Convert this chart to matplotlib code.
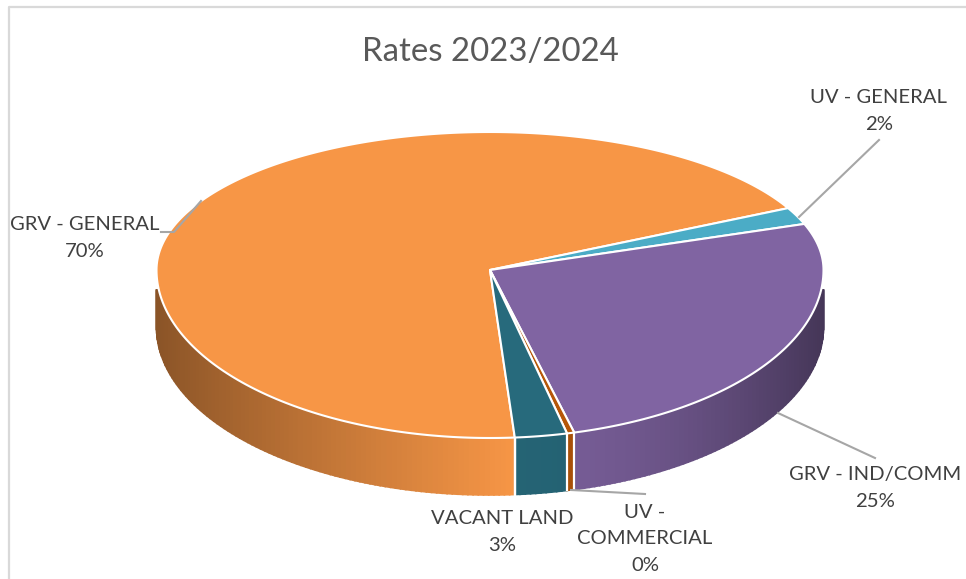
import numpy as np
from matplotlib import pyplot as plt

# data
labels = ['GRV - GENERAL', 'UV - GENERAL', 'GRV - IND/COMM', 'UV -\nCOMMERCIAL', 'VACANT LAND']
values = [69.6, 1.83, 25.36, 0.39, 2.82]
pct_labels = ['70%', '2%', '25%', '0%', '3%']
colors = ['#F79646', '#4BACC6', '#8064A2', '#B65708', '#276A7C']
title = 'Rates 2023/2024'

plt.rcParams['font.family'] = ['Lato', 'DejaVu Sans']

# geometry of the tilted pie, in pixels
cx, cy = 490, 270
rx = 333.5
ry_back, ry_front = 138, 168   # the near half looks bigger than the far half
warp = 3.2      # small angle distortion of the 3d view
depth = 57
rim_top = 290   # the side only shows below this line at the far left and right
start = 85.2    # clockwise from 3 o'clock, first slice starts here


def project(theta):
    t = np.radians(theta + warp * np.sin(np.radians(2 * theta)))
    u, v = np.cos(t), np.sin(t)
    return cx + rx * u, cy + np.where(v < 0, ry_back, ry_front) * v


def shade(color, f):
    rgb = np.array(plt.matplotlib.colors.to_rgb(color))
    return tuple(rgb * f)


fig = plt.figure(figsize=(9.66, 5.79), dpi=100)
ax = fig.add_axes([0, 0, 1, 1])
ax.set_xlim(0, 966)
ax.set_ylim(579, 0)
ax.axis('off')

# chart frame, only the top and left show
ax.plot([9, 9, 966], [579, 6.5, 6.5], color='#D9D9D9', lw=1.6)

edges = start + np.cumsum([0] + [v * 3.6 for v in values])

# side of the pie, only the front half (0..180 degrees) is visible
for i, col in enumerate(colors):
    a0, a1 = edges[i], edges[i + 1]
    for k in [0, 360]:
        lo, hi = max(a0 - k, 0), min(a1 - k, 180)
        if hi <= lo:
            continue
        steps = np.linspace(lo, hi, max(2, int(hi - lo) + 1))
        for t0, t1 in zip(steps[:-1], steps[1:]):
            x0, y0 = project(t0)
            x1, y1 = project(t1)
            xm = (x0 + x1) / 2
            if xm < 515:
                f = 0.56 + 0.44 * (max(xm - 157, 0) / (515 - 157)) ** 0.9
            else:
                f = 0.94 - 0.40 * (min(xm - 515, 308) / 308) ** 1.8
            c = shade(col, f)
            ax.fill([x0, x1, x1, x0],
                    [max(y0, rim_top), max(y1, rim_top), y1 + depth, y0 + depth],
                    color=c, lw=1.2, zorder=2)

# white lines between the slices on the side
for a in edges:
    a = a % 360
    if 0 < a < 180:
        x, y = project(a)
        ax.plot([x, x], [y, y + depth], color='white', lw=1.6, zorder=3)

# top of the pie
for i, col in enumerate(colors):
    th = np.linspace(edges[i], edges[i + 1], max(3, int(values[i] * 3.6) + 2))
    xs, ys = project(th)
    ax.fill(np.r_[cx, xs], np.r_[cy, ys], facecolor=col, edgecolor='white',
            lw=1.5, joinstyle='round', zorder=4)

# leader lines
lead = '#A6A6A6'
ax.plot([161, 174, 201], [232, 232, 201], color=lead, lw=1.5, zorder=5)
ax.plot([799, 879], [217, 140], color=lead, lw=1.5, zorder=5)
ax.plot([778, 875], [413, 458], color=lead, lw=1.5, zorder=5)
ax.plot([571, 645], [490, 494], color=lead, lw=1.5, zorder=5)

# labels
txt = '#404040'
fs = 14.6
label_pos = [(85, 238), (879, 111), (875, 488), (645, 539), (502, 532)]
for i, (x, y) in enumerate(label_pos):
    ax.text(x, y, labels[i] + '\n' + pct_labels[i], ha='center', va='center',
            fontsize=fs, color=txt, linespacing=1.68, zorder=6)

ax.text(490, 52, title, ha='center', va='center', fontsize=23.8, color='#595959')

fig.savefig('out.png', dpi=100)
